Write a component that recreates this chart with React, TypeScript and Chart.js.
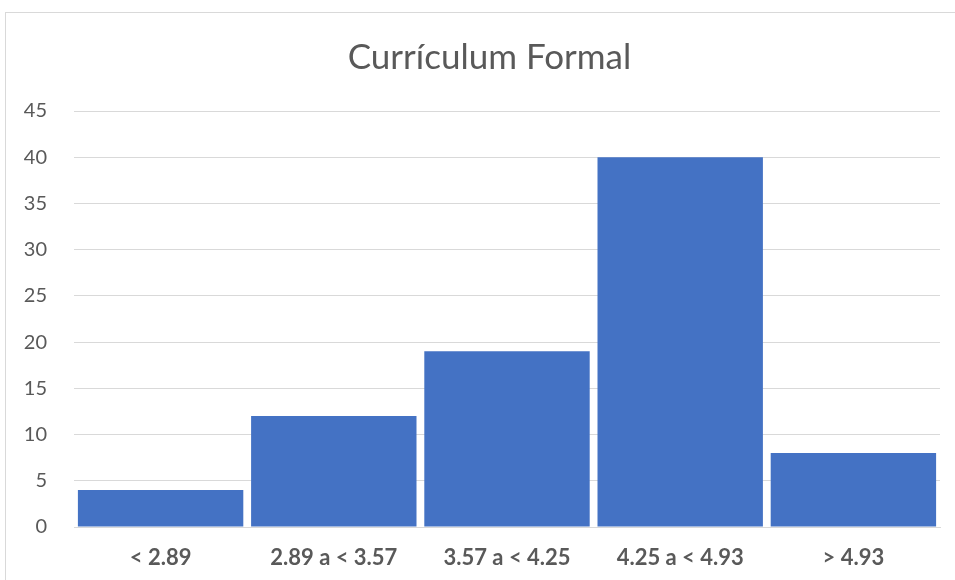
import React, { useEffect, useRef } from "react";
import { Chart, registerables } from "chart.js";

Chart.register(...registerables);

const categories = ["< 2.89", "2.89 a < 3.57", "3.57 a < 4.25", "4.25 a < 4.93", "> 4.93"];
const counts = [4, 12, 19, 40, 8];
const titleText = "Currículum Formal";
const yMin = 0;
const yMax = 45;
const yStep = 5;

const FONT = "Lato, 'Open Sans', sans-serif";

const framePlugin = {
  id: "frame",
  beforeDraw(chart: any) {
    const ctx = chart.ctx;
    ctx.save();
    ctx.fillStyle = "#ffffff";
    ctx.fillRect(0, 0, chart.width, chart.height);
    ctx.strokeStyle = "#d9d9d9";
    ctx.lineWidth = 1;
    ctx.strokeRect(5.5, 12.5, chart.width + 10, chart.height + 10);
    ctx.restore();
  },
};

const titlePlugin = {
  id: "centeredTitle",
  afterDraw(chart: any) {
    const ctx = chart.ctx;
    ctx.save();
    ctx.fillStyle = "#595959";
    ctx.font = `normal 35px ${FONT}`;
    ctx.textAlign = "center";
    ctx.textBaseline = "middle";
    ctx.fillText(titleText, 489.5, 58);
    ctx.restore();
  },
};

export default function App() {
  const ref = useRef<HTMLCanvasElement | null>(null);
  useEffect(() => {
    if (!ref.current) return;
    const chart = new Chart(ref.current, {
      type: "bar",
      data: {
        labels: categories,
        datasets: [
          {
            data: counts,
            backgroundColor: "#4472C4",
            borderWidth: 0,
            barPercentage: 0.955,
            categoryPercentage: 1,
          },
        ],
      },
      options: {
        animation: false,
        responsive: false,
        maintainAspectRatio: false,
        layout: { padding: { left: 0, right: 15, top: 111, bottom: 0 } },
        plugins: {
          legend: { display: false },
          tooltip: { enabled: false },
          title: { display: false },
        },
        scales: {
          x: {
            grid: { display: false, drawTicks: false },
            border: { display: true, color: "#d9d9d9", width: 1 },
            ticks: {
              color: "#595959",
              font: { family: FONT, size: 22, weight: "bold" },
              padding: 18,
              maxRotation: 0,
            },
            afterFit(scale: any) {
              scale.height = 53;
            },
          },
          y: {
            min: yMin,
            max: yMax,
            grid: { color: "#d9d9d9", lineWidth: 1, drawTicks: false },
            border: { display: false },
            ticks: {
              stepSize: yStep,
              color: "#595959",
              font: { family: FONT, size: 20 },
              padding: 27,
            },
            afterFit(scale: any) {
              scale.width = 74;
            },
          },
        },
      },
      plugins: [framePlugin, titlePlugin],
    });
    return () => chart.destroy();
  }, []);
  return (
    <div style={{ position: "fixed", left: 0, top: 0, width: 955, height: 580 }}>
      <canvas ref={ref} width={955} height={580} style={{ width: 955, height: 580 }} />
    </div>
  );
}
